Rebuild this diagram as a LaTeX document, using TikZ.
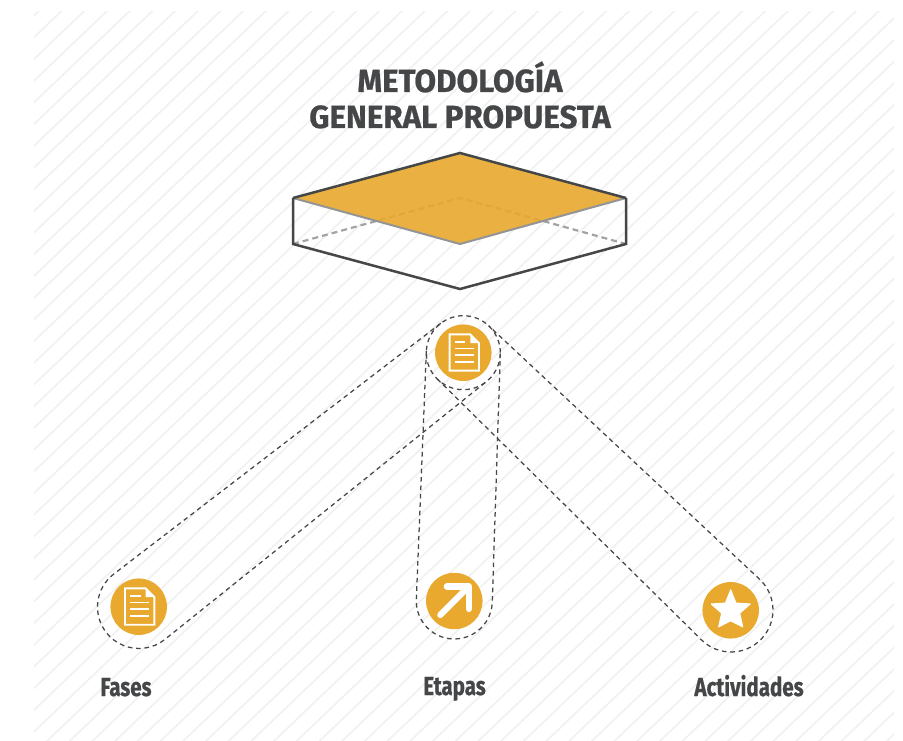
\documentclass[tikz,border=0pt]{standalone}
\usepackage{fontspec}
\newfontfamily\titlef[FakeStretch=0.98,BoldFeatures={FakeBold=0.7}]{Fira Sans}
\newfontfamily\labelf[FakeStretch=0.79,BoldFeatures={FakeBold=0.7}]{Fira Sans}
\definecolor{gold}{HTML}{E8A92E}
\definecolor{ink}{HTML}{454648}
\definecolor{hatchc}{HTML}{F0F0F0}
\tikzset{
  x=1pt,y=1pt,
  disc/.style={circle,fill=gold,minimum size=56.5pt,inner sep=0pt,draw=none},
  capsule/.style={draw=ink,line width=1.25pt,dash pattern=on 4.6pt off 3.8pt},
  hatchline/.style={draw=hatchc,line width=1.5pt},
  edgedark/.style={draw=ink,line width=2.5pt,line join=miter},
  edgegray/.style={draw=black!42,line width=2pt},
  hidden/.style={draw=black!36,line width=2.2pt,dash pattern=on 6pt off 4pt},
  iconline/.style={draw=white,line width=1.8pt},
  titletext/.style={text=ink,font=\titlef\bfseries\fontsize{32}{36}\selectfont,anchor=base},
  labeltext/.style={text=ink,font=\labelf\bfseries\fontsize{26}{30}\selectfont,anchor=base},
}
\newcommand{\capsuleshape}[6]{%
  \pgfmathsetmacro{\dirang}{atan2(#5-#2,#4-#1)}%
  \pgfmathsetmacro{\lenc}{veclen(#4-#1,#5-#2)}%
  \pgfmathsetmacro{\bet}{acos((#3-#6)/\lenc)}%
  \pgfmathsetmacro{\angA}{\dirang+\bet}%
  \pgfmathsetmacro{\angC}{\dirang-\bet}%
  \draw[capsule] ($(#1,#2)+(\angC:#3)$)
     -- ($(#4,#5)+(\angC:#6)$) arc[start angle=\angC,end angle=\angA,radius=#6]
     -- ($(#1,#2)+(\angA:#3)$);
}
\newcommand{\docicon}{%
  \draw[iconline,line width=1.9pt,line join=miter] (-13.7,18.3) -- (7,18.3) -- (15.7,9.6) -- (15.7,-18) -- (-13.7,-18) -- cycle;
  \fill[white] (7,18.3) -- (15.7,9.6) -- (7,9.6) -- cycle;
  \draw[iconline] (-8.7,11) -- (2,11);
  \draw[iconline] (-8.7,4.2) -- (10.5,4.2);
  \draw[iconline] (-8.7,-2.4) -- (10.5,-2.4);
  \draw[iconline] (-8.7,-9.6) -- (10.5,-9.6);
}
\usetikzlibrary{calc}
\begin{document}
\begin{tikzpicture}
\useasboundingbox (0,0) rectangle (903,740);
\fill[white] (0,0) rectangle (903,740);
% hatch
\begin{scope}
  \clip (34,0) rectangle (894,728);
  \foreach \c in {1,...,80}{
    \pgfmathsetmacro{\xx}{22.7*(\c+0.22)}
    \pgfmathsetmacro{\yy}{740-21.7*(\c+0.22)}
    \draw[hatchline] (\xx,740) -- (0,\yy);
  }
\end{scope}
% box
\draw[hidden] (293,496) -- (460,542) -- (626,496);
\fill[gold,fill opacity=0.9] (460,587) -- (626,542) -- (460,496) -- (293,542) -- cycle;
\draw[edgegray] (293,542) -- (460,496) -- (626,542);
\draw[edgedark] (626,542) -- (460,587) -- (293,542);
\draw[edgedark] (293,542) -- (293,496) -- (460,451) -- (626,496) -- (626,542);
% title
\node[titletext] (t1) at (460,648) {METODOLOGÍA};
\node[titletext] (t2) at (460,612) {GENERAL PROPUESTA};
% capsules
\draw[capsule] (463.3,387.3) circle[radius=37];
\capsuleshape{463.3}{387.3}{37}{139}{133}{41.5}
\capsuleshape{463.3}{387.3}{37}{454.3}{139}{38}
\capsuleshape{463.3}{387.3}{37}{731}{130}{42}
% discs
\node[disc] (top) at (463.3,387.3) {};
\node[disc] (fases) at (138.7,133.3) {};
\node[disc] (etapas) at (454.3,139) {};
\node[disc] (activ) at (730.7,129.7) {};
% icons
\begin{scope}[shift={(top.center)}]\docicon\end{scope}
\begin{scope}[shift={(fases.center)}]\docicon\end{scope}
\begin{scope}[shift={(etapas.center)}]
  \draw[white,line width=6.2pt,line cap=round] (-14,-14) -- (11,11);
  \draw[white,line width=6.2pt,line cap=round,line join=round] (-7.5,14.5) -- (14.5,14.5) -- (14.5,-8);
\end{scope}
\begin{scope}[shift={(activ.center)}]
  \fill[white,draw=white,line width=1pt,line join=round] (90:20.5) -- (126:9) -- (162:20.5) -- (198:9.5) -- (234:20.5) -- (270:10.5) -- (306:20.5) -- (342:9.5) -- (18:20.5) -- (54:9) -- cycle;
\end{scope}
% labels
\node[labeltext] (l1) at (126,44) {Fases};
\node[labeltext] (l2) at (454.5,45) {Etapas};
\node[labeltext] (l3) at (749,44) {Actividades};
\end{tikzpicture}
\end{document}
